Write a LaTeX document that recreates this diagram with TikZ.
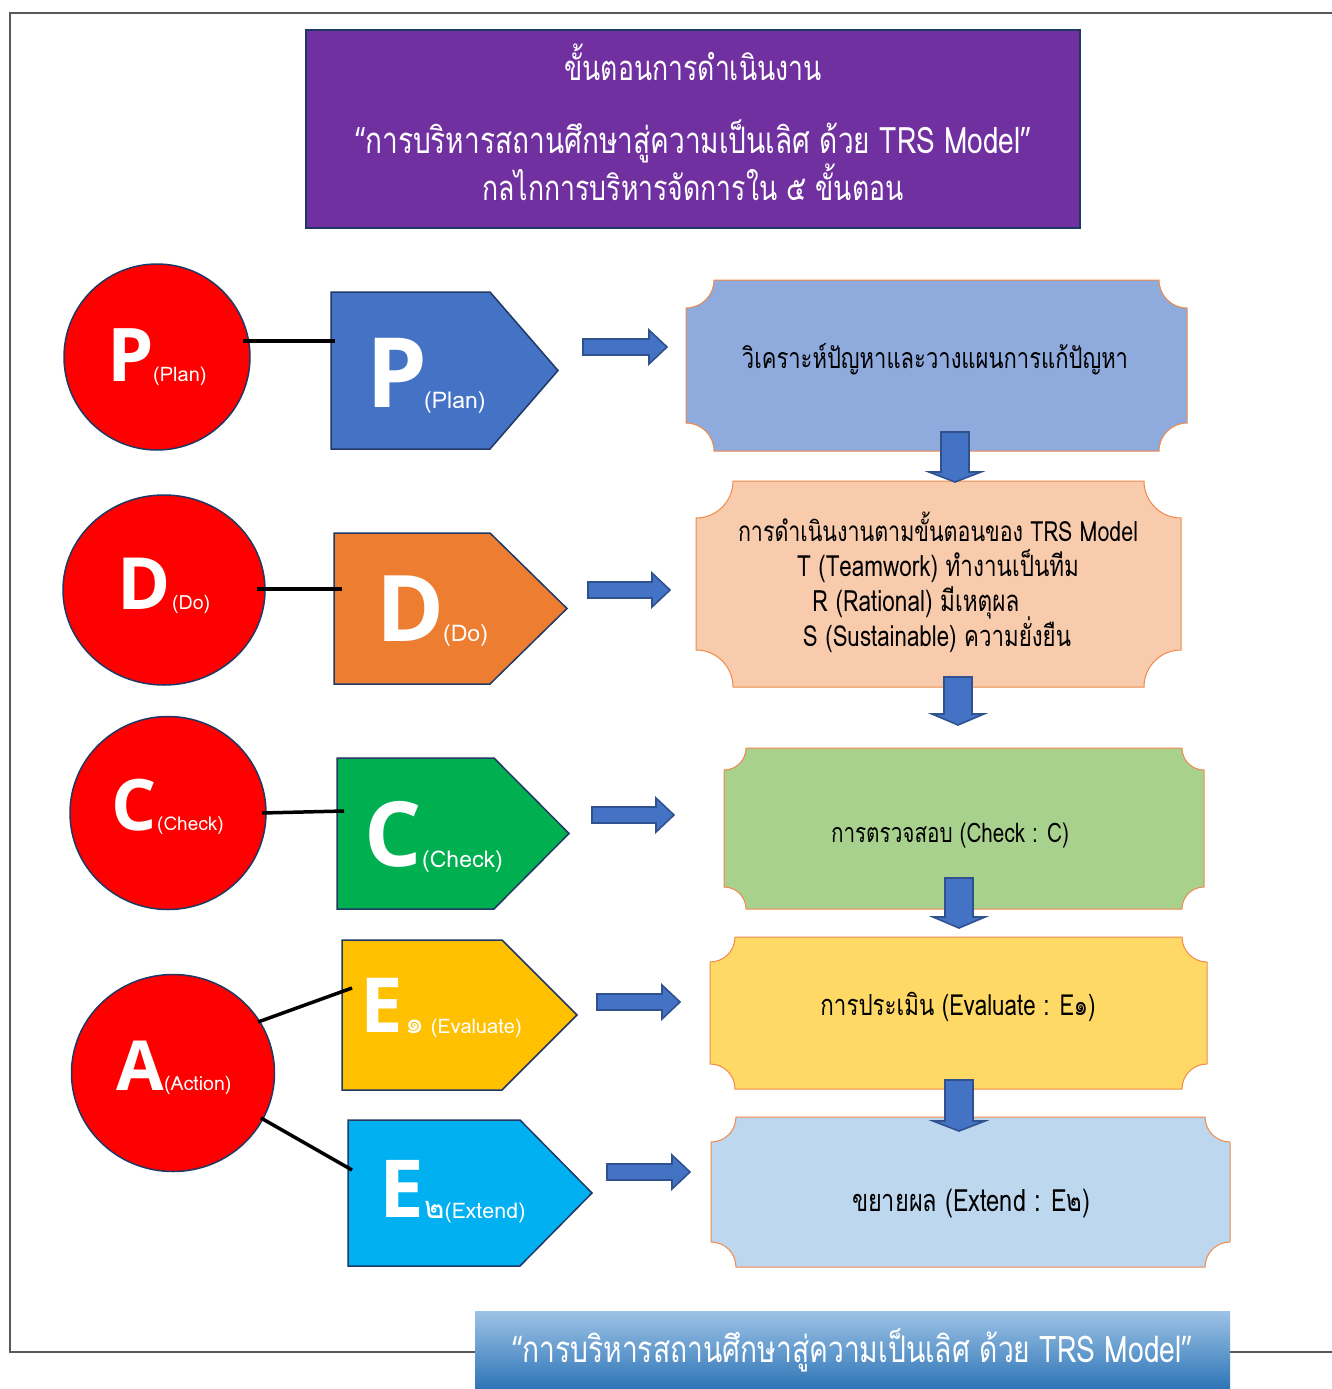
\documentclass[tikz,border=0pt]{standalone}
\usepackage{fontspec}
\usepackage{graphicx}
\setmainfont[Script=Thai]{Loma}
\newfontfamily\bigf{Open Sans}
\newfontfamily\lat{Open Sans}
\usetikzlibrary{shapes.geometric}
\definecolor{purp}{HTML}{7030A0}
\definecolor{navy}{HTML}{1F3864}
\definecolor{pblue}{HTML}{4472C4}
\definecolor{porange}{HTML}{ED7D31}
\definecolor{pgreen}{HTML}{00B050}
\definecolor{pyellow}{HTML}{FFC000}
\definecolor{pcyan}{HTML}{00B0F0}
\definecolor{fA}{HTML}{8FAADC}
\definecolor{fB}{HTML}{F8CBAD}
\definecolor{fC}{HTML}{A9D18E}
\definecolor{fD}{HTML}{FFD966}
\definecolor{fE}{HTML}{BDD7EE}
\definecolor{plqline}{HTML}{F08A4B}
\definecolor{arrline}{HTML}{2F528F}
\definecolor{frm}{HTML}{595959}
\definecolor{bantop}{HTML}{9DC3E6}
\definecolor{banbot}{HTML}{2E75B6}
\newcommand\fitw[2]{\resizebox{#1pt}{!}{\scalebox{1}[1.3]{#2}}}
\newcommand\pentshape[6]{\draw[pentst, fill=#6] (#1,#2) -- (#3,#2) -- (#4,{(#2+#5)/2}) -- (#3,#5) -- (#1,#5) -- cycle;}
\newcommand\plaque[6]{\draw[plqst, fill=#6] (#1+#5,#2) -- (#3-#5,#2) arc[start angle=180,end angle=90,radius=#5] -- (#3,#4-#5) arc[start angle=270,end angle=180,radius=#5] -- (#1+#5,#4) arc[start angle=0,end angle=-90,radius=#5] -- (#1,#2+#5) arc[start angle=90,end angle=0,radius=#5] -- cycle;}
\newcommand\rarr[3]{\draw[blkarr] (#1,#3-8) -- (#2-18,#3-8) -- (#2-18,#3-17) -- (#2,#3) -- (#2-18,#3+17) -- (#2-18,#3+8) -- (#1,#3+8) -- cycle;}
\newcommand\darr[4]{\draw[blkarr] (#1-14,#2) -- (#1+14,#2) -- (#1+14,#3) -- (#1+26,#3) -- (#1,#4) -- (#1-26,#3) -- (#1-14,#3) -- cycle;}
\begin{document}
\begin{tikzpicture}[x=1pt,y=-1pt,
  frameline/.style={draw=frm,line width=2pt},
  pentst/.style={draw=navy,line width=1.5pt,line join=miter},
  plqst/.style={draw=plqline,line width=1pt},
  blkarr/.style={fill=pblue,draw=arrline,line width=1.6pt,line join=miter},
  circ/.style={ellipse,fill=red,draw=navy,line width=1.5pt,inner sep=0pt},
  conn/.style={draw=black,line width=3.5pt},
  wtxt/.style={text=white,inner sep=0pt},
  btxt/.style={text=black,inner sep=0pt},
  big/.style={wtxt,anchor=base west,font=\bigf\bfseries},
  sub/.style={wtxt,anchor=base west}]
\useasboundingbox (0,0) rectangle (1332,1389);
\fill[white] (0,0) rectangle (1332,1389);
% frame
\draw[frameline] (475,1352) -- (10,1352) -- (10,13) -- (1332,13);
\draw[frameline] (1230,1352) -- (1332,1352);
% title
\node[draw=navy,line width=2.5pt,fill=purp,minimum width=774,minimum height=198,inner sep=0pt] (title) at (693,129) {};
\node[wtxt,anchor=base] (t1) at (693,80) {\fitw{257}{ขั้นตอนการดำเนินงาน}};
\node[wtxt,anchor=base] (t2) at (693,153) {\fitw{675}{{\lat “}การบริหารสถานศึกษาสู่ความเป็นเลิศ ด้วย TRS Model{\lat ”}}};
\node[wtxt,anchor=base] (t3) at (693,200) {\fitw{421}{กลไกการบริหารจัดการใน ๕ ขั้นตอน}};
% circles
\node[circ,minimum width=186,minimum height=186] (cP) at (157,357) {};
\node[circ,minimum width=202,minimum height=190] (cD) at (164,590) {};
\node[circ,minimum width=196,minimum height=193] (cC) at (168,813) {};
\node[circ,minimum width=203,minimum height=197] (cA) at (173,1073) {};
\node[big,font=\bigf\bfseries\fontsize{74}{74}\selectfont] (cPl) at (107,381) {P};
\node[sub,font=\fontsize{20}{20}\selectfont] (cPs) at (153,381) {(Plan)};
\node[big,font=\bigf\bfseries\fontsize{72}{72}\selectfont] (cDl) at (117,609) {D};
\node[sub,font=\fontsize{19.5}{20}\selectfont] (cDs) at (172,609) {(Do)};
\node[big,font=\bigf\bfseries\fontsize{71}{71}\selectfont] (cCl) at (111,830) {C};
\node[sub,font=\fontsize{19}{19}\selectfont] (cCs) at (157,830) {(Check)};
\node[big,font=\bigf\bfseries\fontsize{69}{69}\selectfont] (cAl) at (116,1090) {A};
\node[sub,font=\fontsize{19.5}{20}\selectfont] (cAs) at (164,1090) {(Action)};
% pentagons
\pentshape{331}{292}{490}{558}{449}{pblue}
\pentshape{334}{533}{490}{567}{684}{porange}
\pentshape{337}{758}{494}{569}{909}{pgreen}
\pentshape{342}{940}{502}{577}{1090}{pyellow}
\pentshape{348}{1120}{520}{592}{1266}{pcyan}
\node[inner sep=0,minimum width=227,minimum height=157] (pP) at (444,370) {};
\node[inner sep=0,minimum width=233,minimum height=151] (pD) at (450,608) {};
\node[inner sep=0,minimum width=232,minimum height=151] (pC) at (453,833) {};
\node[inner sep=0,minimum width=235,minimum height=150] (pE1) at (459,1015) {};
\node[inner sep=0,minimum width=244,minimum height=146] (pE2) at (470,1193) {};
\node[big,font=\bigf\bfseries\fontsize{97}{97}\selectfont] (pPl) at (366,407) {P};
\node[sub,font=\fontsize{23}{23}\selectfont] (pPs) at (424,408) {(Plan)};
\node[big,font=\bigf\bfseries\fontsize{92}{92}\selectfont] (pDl) at (376,641) {D};
\node[sub,font=\fontsize{23}{23}\selectfont] (pDs) at (443,641) {(Do)};
\node[big,font=\bigf\bfseries\fontsize{90}{90}\selectfont] (pCl) at (364,866) {C};
\node[sub,font=\fontsize{23}{23}\selectfont] (pCs) at (422,867) {(Check)};
\node[big,font=\bigf\bfseries\fontsize{76}{76}\selectfont] (pE1l) at (360,1032) {E};
\node[sub,font=\fontsize{20}{20}\selectfont] (pE1s) at (405,1033) {{\fontsize{30}{30}\selectfont ๑} (Evaluate)};
\node[big,font=\bigf\bfseries\fontsize{80}{80}\selectfont] (pE2l) at (379,1217) {E};
\node[sub,font=\fontsize{21.5}{22}\selectfont] (pE2s) at (424,1218) {{\fontsize{31}{31}\selectfont ๒}(Extend)};
% connectors circle -> pentagon
\coordinate (aP) at (243,341); \coordinate (bP) at (335,341);
\coordinate (aD) at (257,589); \coordinate (bD) at (342,589);
\coordinate (aC) at (262,813); \coordinate (bC) at (344,811);
\coordinate (aE1) at (258,1022); \coordinate (bE1) at (352,988);
\coordinate (aE2) at (261,1118); \coordinate (bE2) at (352,1170);
\draw[conn] (aP) -- (bP);
\draw[conn] (aD) -- (bD);
\draw[conn] (aC) -- (bC);
\draw[conn] (aE1) -- (bE1);
\draw[conn] (aE2) -- (bE2);
% plaques
\plaque{686}{280}{1187}{451}{28}{fA}
\plaque{696}{481}{1181}{687}{37}{fB}
\plaque{724}{748}{1204}{909}{22}{fC}
\plaque{710}{937}{1207}{1089}{25}{fD}
\plaque{711}{1117}{1230}{1267}{25}{fE}
\node[btxt,anchor=base] (b1) at (935,368) {\fitw{386}{วิเคราะห์ปัญหาและวางแผนการแก้ปัญหา}};
\node[btxt,anchor=base] (b2a) at (938,541) {\fitw{400}{การดำเนินงานตามขั้นตอนของ TRS Model}};
\node[btxt,anchor=base] (b2b) at (938,576) {\fitw{282}{T (Teamwork) ทำงานเป็นทีม}};
\node[btxt,anchor=base] (b2c) at (916,611) {\fitw{207}{R (Rational) มีเหตุผล}};
\node[btxt,anchor=base] (b2d) at (937,646) {\fitw{268}{S (Sustainable) ความยั่งยืน}};
\node[btxt,anchor=base] (b3) at (950,842) {\fitw{238}{การตรวจสอบ (Check : C)}};
\node[btxt,anchor=base] (b4) at (958,1015) {\fitw{275}{การประเมิน (Evaluate : E๑)}};
\node[btxt,anchor=base] (b5) at (971,1211) {\fitw{238}{ขยายผล (Extend : E๒)}};
% block arrows
\rarr{583}{667}{347}
\rarr{588}{670}{590}
\rarr{592}{674}{815}
\rarr{597}{680}{1002}
\rarr{607}{690}{1172}
\darr{955}{432}{472}{482}
\darr{958}{677}{714}{725}
\darr{959}{878}{917}{928}
\darr{959}{1080}{1121}{1131}
% banner
\shade[top color=bantop,bottom color=banbot] (475,1311) rectangle (1230,1389);
\node[inner sep=0,minimum width=755,minimum height=78] (ban) at (852.5,1350) {};
\node[wtxt,anchor=base] (bant) at (852,1362) {\fitw{679}{{\lat “}การบริหารสถานศึกษาสู่ความเป็นเลิศ ด้วย TRS Model{\lat ”}}};
\end{tikzpicture}
\end{document}
